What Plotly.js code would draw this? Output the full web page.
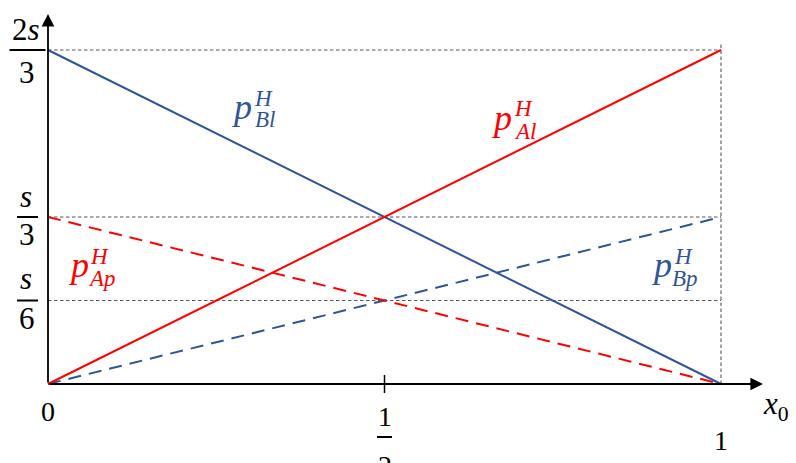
<!DOCTYPE html>
<html>
<head>
<meta charset="utf-8">
<script src="https://cdn.plot.ly/plotly-3.0.1.min.js"></script>
<style>html,body{margin:0;padding:0;background:#fff;}#chart{width:796px;height:463px;}</style>
</head>
<body>
<div id="chart"></div>
<script>
// ---- data (values in units of s) ----
const xEnds = [0, 1];
const pBl = [2/3, 0];   // blue solid
const pAl = [0, 2/3];   // red solid
const pAp = [1/3, 0];   // red dashed
const pBp = [0, 1/3];   // blue dashed
const guideLevels = [2/3, 1/3, 1/6];
const yTickVals = [2/3, 1/3, 1/6];
const yTickNum = ['2<i>s</i>', '<i>s</i>', '<i>s</i>'];
const yTickDen = ['3', '3', '6'];
const xTickVals = [0, 0.5, 1];
const xTickNum = ['0', '1', '1'];
const xTickDen = [null, '2', null];
const seriesNames = ['Bl', 'Al', 'Ap', 'Bp'];

// ---- layout helpers ----
const W = 796, H = 463;
const X0 = 48, X1 = 721, Y0 = 384, PXY = 501;
const xRange = [-X0 / (X1 - X0), (W - X0) / (X1 - X0)];
const yRange = [-(H - Y0) / PXY, Y0 / PXY];
const dx = px => (px - X0) / (X1 - X0);
const dy = py => (Y0 - py) / PXY;
const toPy = v => Y0 - v * PXY;
const toPx = v => X0 + v * (X1 - X0);
const paperX = px => px / W;
const paperY = py => 1 - py / H;

const BLUE = '#2F5597', RED = '#FF0000', GREY = '#595959';
const serif = 'Liberation Serif, DejaVu Serif, serif';

function line(y, color, dash) {
  return {x: xEnds, y: y, mode: 'lines', hoverinfo: 'skip', showlegend: false,
          line: {color: color, width: 2, dash: dash}};
}
const traces = [
  line(pBp, BLUE, '13px,8px'),
  line(pAp, RED, '13px,8px'),
  line(pBl, BLUE, 'solid'),
  line(pAl, RED, 'solid')
];

const shapes = [];
const guideLine = {color: GREY, width: 1.1, dash: '3.5px,2.5px'};
guideLevels.forEach(v => shapes.push({type: 'line', xref: 'x', yref: 'y', x0: 0, x1: 1, y0: v, y1: v,
  line: guideLine, layer: 'below'}));
shapes.push({type: 'line', xref: 'x', yref: 'y', x0: 1, x1: 1, y0: 0, y1: dy(42),
  line: guideLine, layer: 'below'});
// tick at 1/2
shapes.push({type: 'line', xref: 'x', yref: 'y', x0: 0.5, x1: 0.5, y0: dy(375), y1: dy(393),
  line: {color: '#000', width: 1.5}});

const ann = [];
// axes arrows
ann.push({xref: 'x', yref: 'y', axref: 'x', ayref: 'y', x: dx(763), y: 0, ax: 0, ay: 0, text: '',
  showarrow: true, arrowhead: 2, arrowsize: 1.4, arrowwidth: 1.8, arrowcolor: '#000', standoff: 0});
ann.push({xref: 'x', yref: 'y', axref: 'x', ayref: 'y', x: 0, y: dy(14), ax: 0, ay: 0, text: '',
  showarrow: true, arrowhead: 2, arrowsize: 1.4, arrowwidth: 1.8, arrowcolor: '#000', standoff: 0});

function txt(px, py, text, size, color) {
  ann.push({xref: 'paper', yref: 'paper', x: paperX(px), y: paperY(py), text: text, showarrow: false,
    xanchor: 'center', yanchor: 'middle', borderpad: 0,
    font: {family: serif, size: size, color: color || '#000'}});
}

// y tick fractions
const yBarHalf = [18, 10.5, 10.5];
const yNumOff = [-21, -21, -22];
const yDenOff = [22, 17, 18];
yTickVals.forEach((v, i) => {
  const py = toPy(v);
  txt(26, py + yNumOff[i], yTickNum[i], 31);
  txt(27.5, py + yDenOff[i], yTickDen[i], 31);
  shapes.push({type: 'line', xref: 'paper', yref: 'paper', x0: paperX(27.5 - yBarHalf[i]), x1: paperX(27.5 + yBarHalf[i]),
    y0: paperY(py), y1: paperY(py), line: {color: '#000', width: 2}});
});

// x tick labels
const xNumPy = [411, 416, 440];
xTickVals.forEach((v, i) => {
  const px = toPx(v);
  txt(px, xNumPy[i], xTickNum[i], 28);
  if (xTickDen[i]) {
    txt(px, 466, xTickDen[i], 28);
    shapes.push({type: 'line', xref: 'paper', yref: 'paper', x0: paperX(px - 7.5), x1: paperX(px + 7.5),
      y0: paperY(437), y1: paperY(437), line: {color: '#000', width: 2}});
  }
});
// x axis title
txt(776, 406, '<i>x</i><sub>0</sub>', 31);

// series labels: p^H_{..}
const labelPos = {Bl: [241, 107, BLUE], Al: [501, 118, RED], Ap: [78, 265, RED], Bp: [661, 265, BLUE]};
seriesNames.forEach(n => {
  const [px, py, c] = labelPos[n];
  txt(px, py, '<i>p</i>', 36, c);
  txt(px + 22, py - 9, '<i>H</i>', 23, c);
  txt(px + 24, py + 13, '<i>' + n + '</i>', 23, c);
});

const layout = {
  width: W, height: H, autosize: false,
  margin: {l: 0, r: 0, t: 0, b: 0, pad: 0},
  paper_bgcolor: '#fff', plot_bgcolor: '#fff',
  xaxis: {range: xRange, visible: false, fixedrange: true},
  yaxis: {range: yRange, visible: false, fixedrange: true},
  shapes: shapes, annotations: ann, showlegend: false
};
Plotly.newPlot('chart', traces, layout, {staticPlot: true, displayModeBar: false});
</script>
</body>
</html>
